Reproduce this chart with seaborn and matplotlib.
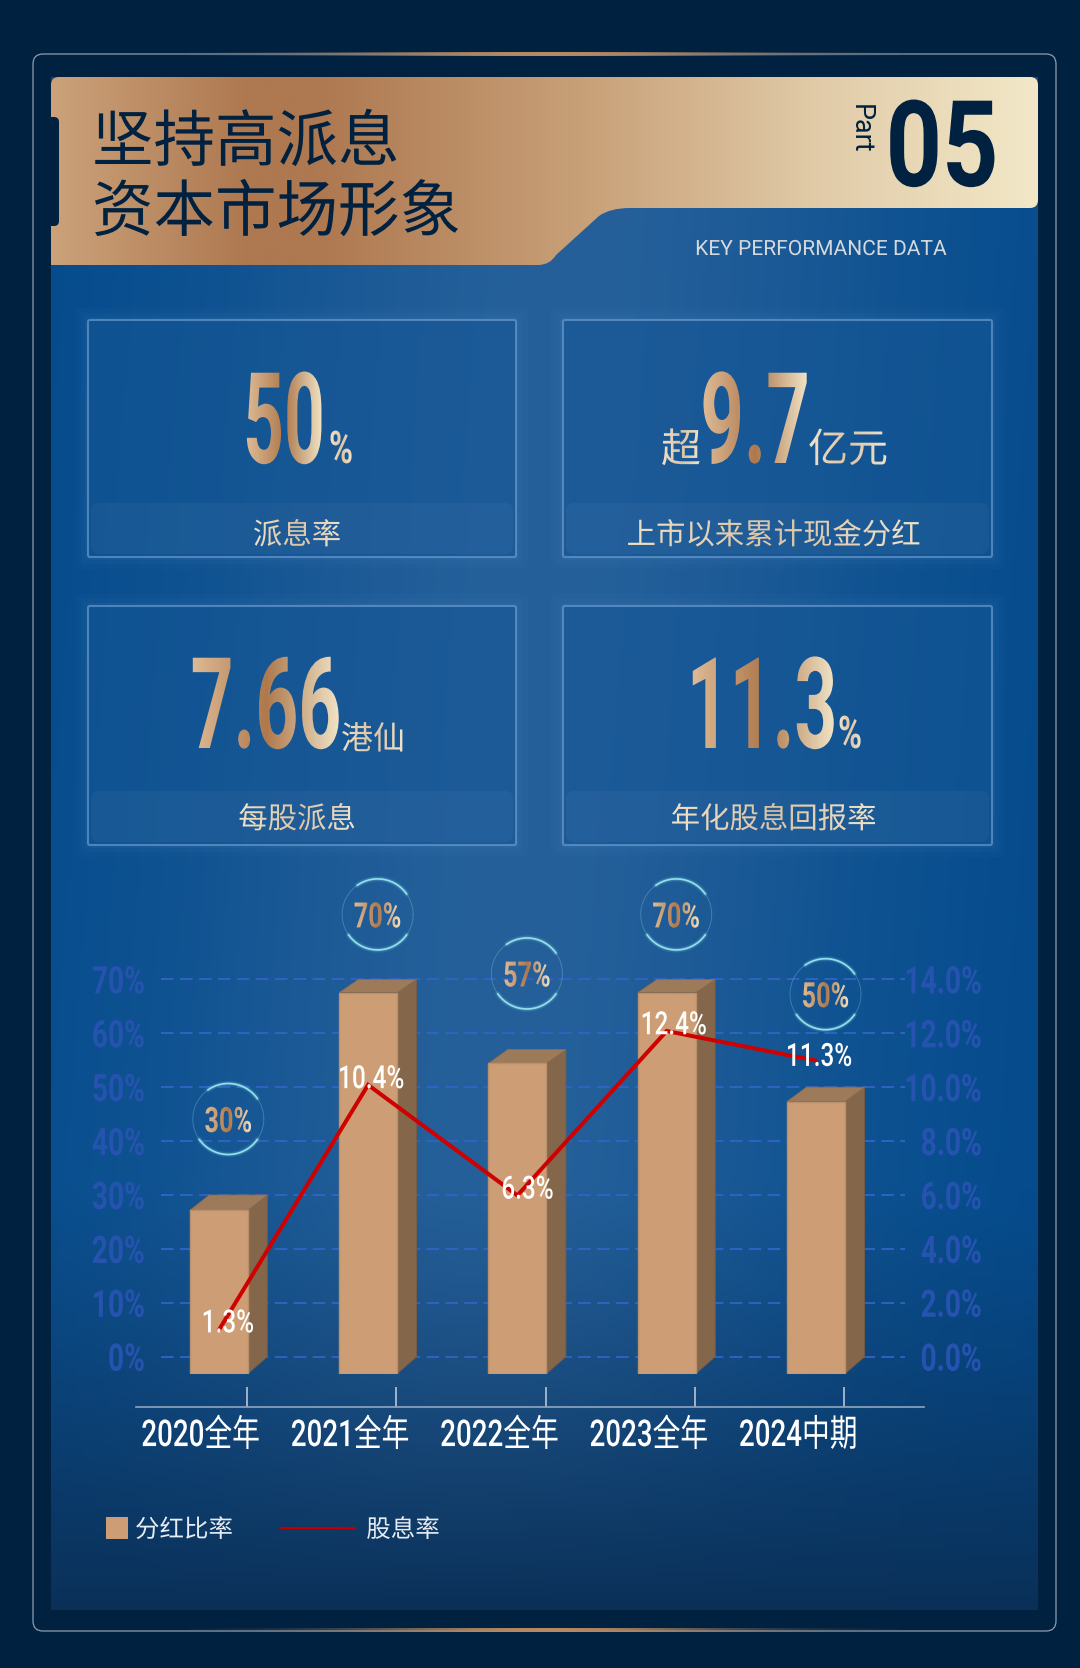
import numpy as np
import matplotlib
matplotlib.use('Agg')
import matplotlib.pyplot as plt
import seaborn as sns
from matplotlib.colors import LinearSegmentedColormap, to_rgb
from matplotlib.patches import FancyBboxPatch, PathPatch, Polygon, Rectangle
from matplotlib.path import Path
from matplotlib.patheffects import AbstractPathEffect
from matplotlib.transforms import Affine2D, Bbox, ScaledTranslation

# chart values
periods = ['2020全年', '2021全年', '2022全年', '2023全年', '2024中期']
payout_ratio = [30, 70, 57, 70, 50]
dividend_yield = [1.3, 10.4, 6.3, 12.4, 11.3]
payout_ticks = [0, 10, 20, 30, 40, 50, 60, 70]
yield_ticks = [0, 2, 4, 6, 8, 10, 12, 14]

W, H = 1080, 1668
DPI = 100
FONT = ['Roboto', 'Noto Sans CJK SC', 'DejaVu Sans']
CJK = ['Noto Sans CJK SC', 'DejaVu Sans']
OUTER = '#00213f'
GRID = '#3363c6'
TICK_BLUE = '#2753b0'
GOLD = ['#dcb994', '#ae784c', '#f0e3c6']
CREAM = ['#efe0c6', '#dcc3a2', '#efe2ca']

sns.set_theme(style='white')
plt.rcParams['font.family'] = FONT
plt.rcParams['axes.unicode_minus'] = False


def pt(px):
    return px * 72 / DPI


class Tall(AbstractPathEffect):
    """Stretch a text vertically (condensed look) and optionally fill it left to right with a gradient"""

    def __init__(self, sy=1.0, about='baseline', stops=None):
        super().__init__()
        self.sy = sy
        self.about = about
        self.cmap = LinearSegmentedColormap.from_list('g', stops) if stops else None

    def draw_path(self, renderer, gc, tpath, affine, rgbFace=None):
        if self.about == 'baseline':
            aff = Affine2D().scale(1, self.sy) + affine
        else:
            ext = tpath.get_extents(affine)
            cy = (ext.y0 + ext.y1) / 2
            aff = affine + Affine2D().translate(0, -cy).scale(1, self.sy).translate(0, cy)
        if self.cmap is None:
            renderer.draw_path(gc, tpath, aff, rgbFace)
            return
        ext = tpath.get_extents(aff)
        for px in range(int(np.floor(ext.x0)), int(np.ceil(ext.x1))):
            gc0 = renderer.new_gc()
            gc0.copy_properties(gc)
            gc0.set_clip_rectangle(Bbox([[px, ext.y0 - 2], [px + 1, ext.y1 + 2]]))
            frac = (px - ext.x0) / max(ext.width, 1)
            renderer.draw_path(gc0, tpath, aff, self.cmap(frac)[:3])
            gc0.restore()


def px_axes(fig, left, top, right, bottom, zorder=1):
    ax = fig.add_axes([left / W, 1 - bottom / H, (right - left) / W, (bottom - top) / H])
    ax.set_zorder(zorder)
    ax.patch.set_alpha(0)
    return ax


def put(ax, x, y, s, px, color='white', sx=1.0, ha='center', stops=None, **kw):
    # px is the visual em height, sx the wanted narrowing of the glyphs
    return ax.text(x, y, s, fontsize=pt(px * sx), color=color, ha=ha, va='baseline',
                   path_effects=[Tall(1 / sx, 'baseline', stops)], **kw)


def h_gradient(stops, n=1000):
    xs = np.linspace(0, 1, n)
    pos = [s[0] for s in stops]
    cols = np.array([to_rgb(s[1]) for s in stops])
    return np.stack([np.interp(xs, pos, cols[:, i]) for i in range(3)], axis=-1)[None, :, :]


fig = plt.figure(figsize=(W / DPI, H / DPI), dpi=DPI, facecolor=OUTER)

# background layer, pixel coordinates
ax_bg = px_axes(fig, 0, 0, W, H, zorder=0)
ax_bg.axis('off')

# panel gradient
yy, xx = np.mgrid[0:1:400j, 0:1:300j]
edge = np.array(to_rgb('#024a8c'))
mid = np.array(to_rgb('#25609a'))
low = np.array(to_rgb('#0a3058'))
glow = np.exp(-((xx - 0.5 + 0.12 * (yy - 0.3)) / 0.36) ** 2)[..., None]
panel = edge + (mid - edge) * glow
dark = np.clip((yy - 0.72) / 0.28, 0, 1)[..., None] ** 1.2
panel = panel + (low - panel) * dark
ax_bg.imshow(panel, extent=(51, 1038, 1610, 77), aspect='auto', zorder=1)

# outer frame with gold accents
ax_bg.add_patch(FancyBboxPatch((33, 54), 1023, 1577, boxstyle='round,pad=0,rounding_size=10',
                               fc='none', ec='#8c9db2', lw=0.9, zorder=2))
for y in (53.5, 1630.5):
    acc = np.ones((1, 600, 4))
    acc[..., :3] = to_rgb('#b98a62')
    acc[..., 3] = np.exp(-((np.linspace(-1, 1, 600)) / 0.55) ** 2)
    ax_bg.imshow(acc, extent=(190, 900, y + 2, y - 2), aspect='auto', zorder=3)

# header ribbon
verts = [(51, 85), (51, 77), (59, 77), (1030, 77), (1038, 77), (1038, 85), (1038, 200), (1038, 208),
         (1030, 208), (630, 208), (610, 208), (599, 216), (556, 255), (550, 265), (538, 265),
         (51, 265), (51, 85)]
codes = [Path.MOVETO, Path.CURVE3, Path.CURVE3, Path.LINETO, Path.CURVE3, Path.CURVE3, Path.LINETO,
         Path.CURVE3, Path.CURVE3, Path.LINETO, Path.CURVE3, Path.CURVE3, Path.LINETO, Path.CURVE3,
         Path.CURVE3, Path.LINETO, Path.CLOSEPOLY]
ribbon = PathPatch(Path(verts, codes), fc='none', ec='none', transform=ax_bg.transData)
ax_bg.add_patch(ribbon)
im = ax_bg.imshow(h_gradient([(0, '#cba27a'), (0.2, '#ae7850'), (0.27, '#ae7850'), (0.55, '#c9a27a'),
                              (0.78, '#e1cba8'), (1, '#f2e8c8')]),
                  extent=(51, 1038, 265, 77), aspect='auto', zorder=4)
im.set_clip_path(ribbon)
ax_bg.add_patch(FancyBboxPatch((44, 117), 15, 109, boxstyle='round,pad=0,rounding_size=5',
                               fc=OUTER, ec='none', zorder=5))

put(ax_bg, 92, 161, '坚持高派息', 61.5, OUTER, ha='left', family=CJK, zorder=6)
put(ax_bg, 92, 231, '资本市场形象', 61.5, OUTER, ha='left', family=CJK, zorder=6)
put(ax_bg, 942, 186, '05', 120, OUTER, sx=0.82, weight='bold', zorder=6)
ax_bg.text(860, 129, 'Part', fontsize=pt(27), color=OUTER, rotation=-90, ha='center', va='center',
           zorder=6)
put(ax_bg, 821, 255, 'KEY PERFORMANCE DATA', 21, '#d4d9de', zorder=6)

# KPI cards
cards = [(88, 320, 428, 237), (563, 320, 429, 237), (88, 606, 428, 239), (563, 606, 429, 239)]
for x, y, w, h in cards:
    for grow, a in ((12, 0.03), (7, 0.04), (3, 0.05)):
        ax_bg.add_patch(FancyBboxPatch((x - grow, y - grow), w + 2 * grow, h + 2 * grow,
                                       boxstyle='round,pad=0,rounding_size=4', fc='#6fa6dc', ec='none',
                                       alpha=a, zorder=2))
    ax_bg.add_patch(FancyBboxPatch((x, y), w, h, boxstyle='round,pad=0,rounding_size=2',
                                   fc='#0d4f8f', ec='none', alpha=0.5, zorder=3))
    ax_bg.add_patch(FancyBboxPatch((x + 3, y + h - 54), w - 6, 51, boxstyle='round,pad=0,rounding_size=8',
                                   fc='#ffffff', ec='none', alpha=0.035, zorder=3))
    ax_bg.add_patch(FancyBboxPatch((x, y), w, h, boxstyle='round,pad=0,rounding_size=2',
                                   fc='none', ec='#6f9fd2', lw=1.5, alpha=0.65, zorder=4))

EM = 127
put(ax_bg, 284, 463, '50', EM, sx=0.56, stops=GOLD, weight='bold', zorder=6)
put(ax_bg, 341, 463, '%', 45, sx=0.72, stops=CREAM, weight='bold', zorder=6)
put(ax_bg, 681, 462, '超', 40, stops=CREAM, family=CJK, zorder=6)
put(ax_bg, 755, 463, '9.7', EM, sx=0.6, stops=GOLD, weight='bold', zorder=6)
put(ax_bg, 848, 462, '亿元', 40, stops=CREAM, family=CJK, zorder=6)
put(ax_bg, 266, 748, '7.66', EM, sx=0.59, stops=GOLD, weight='bold', zorder=6)
put(ax_bg, 373, 749, '港仙', 32, stops=CREAM, family=CJK, zorder=6)
put(ax_bg, 762, 748, '11.3', EM, sx=0.59, stops=GOLD, weight='bold', zorder=6)
put(ax_bg, 850, 748, '%', 45, sx=0.72, stops=CREAM, weight='bold', zorder=6)
put(ax_bg, 297, 544, '派息率', 29.4, stops=CREAM, family=CJK, zorder=6)
put(ax_bg, 773.5, 544, '上市以来累计现金分红', 29.4, stops=CREAM, family=CJK, zorder=6)
put(ax_bg, 297, 828, '每股派息', 29.4, stops=CREAM, family=CJK, zorder=6)
put(ax_bg, 773.5, 828, '年化股息回报率', 29.4, stops=CREAM, family=CJK, zorder=6)

# legend
ax_bg.add_patch(Rectangle((106, 1517), 22, 22, fc='#cd9e75', ec='none', zorder=6))
ax_bg.plot([281, 355], [1528, 1528], color='#c00000', lw=1.6, zorder=6)
put(ax_bg, 184, 1537, '分红比率', 24.5, '#e6ecf3', family=CJK, zorder=6)
put(ax_bg, 403, 1537, '股息率', 24.5, '#e6ecf3', family=CJK, zorder=6)

ax_bg.set_xlim(0, W)
ax_bg.set_ylim(H, 0)

# chart frames: back wall holds the grid, the bar fronts and the line sit nearer the viewer
STEP = 149.3
CENTER0 = 238.3
GRID_L, GRID_R, GRID_T, GRID_B = 161, 905, 979.4, 1356.7
DX, DY = 19.5, 17.0
FRONT_T = 992.7
xlim = ((GRID_L - CENTER0) / STEP, (GRID_R - CENTER0) / STEP)

TICK_SX = 0.74
ax_back = px_axes(fig, GRID_L, GRID_T, GRID_R, GRID_B, zorder=1)
ax_back.set_xlim(xlim)
ax_back.set_ylim(0, 70)
ax_back.set_xticks([])
ax_back.set_yticks(payout_ticks, [f'{t}%' for t in payout_ticks])
ax_back.yaxis.grid(True, color=GRID, lw=1.3, ls=(0, (7, 3.5)))
ax_back.tick_params(axis='y', length=0, pad=pt(16), labelsize=pt(38 * TICK_SX), labelcolor=TICK_BLUE)
for gl in ax_back.get_ygridlines():
    gl.set_clip_on(False)
for lab in ax_back.get_yticklabels():
    lab.set_weight('bold')
    lab.set_path_effects([Tall(1 / TICK_SX, 'center')])
sns.despine(ax=ax_back, left=True, bottom=True)

ax_right = ax_back.twinx()
ax_right.patch.set_alpha(0)
ax_right.set_ylim(0, 14)
ax_right.set_yticks(yield_ticks, [f'{t:.1f}%' for t in yield_ticks])
ax_right.tick_params(axis='y', length=0, pad=pt(77), labelsize=pt(38 * TICK_SX), labelcolor=TICK_BLUE)
for lab in ax_right.get_yticklabels():
    lab.set_ha('right')
    lab.set_weight('bold')
    lab.set_path_effects([Tall(1 / TICK_SX, 'center')])
sns.despine(ax=ax_right, left=True, bottom=True, right=True)

ax_front = px_axes(fig, GRID_L - DX, FRONT_T, GRID_R - DX, GRID_B + DY, zorder=3)
sns.barplot(x=periods, y=payout_ratio, ax=ax_front, color='#cd9e75', saturation=1, width=58 / STEP,
            edgecolor='#b8906c', linewidth=1.0)
ax_front.set_xlim(xlim)
ax_front.set_ylim(0, 70)
ax_front.axis('off')
front_unit = (GRID_B + DY - FRONT_T) / 70
back_unit = (GRID_B - GRID_T) / 70
dx_data, dy_data = DX / STEP, DY / front_unit
for bar in list(ax_front.patches):
    x0, w, top = bar.get_x(), bar.get_width(), bar.get_height()
    back_top = dy_data + top * back_unit / front_unit
    bar.set_zorder(3)
    ax_front.add_patch(Polygon([(x0 + w, 0), (x0 + w + dx_data, dy_data), (x0 + w + dx_data, back_top),
                                (x0 + w, top)], fc='#84664a', ec='#7a5d43', lw=0.6, clip_on=False, zorder=2))
    ax_front.add_patch(Polygon([(x0, top), (x0 + dx_data, back_top), (x0 + w + dx_data, back_top),
                                (x0 + w, top)], fc='#9c7a5a', ec='#8d6d50', lw=0.6, clip_on=False, zorder=2))

ax_line = px_axes(fig, GRID_L - DX, GRID_T + DY / 2, GRID_R - DX, GRID_B + DY / 2, zorder=4)
sns.lineplot(x=periods, y=dividend_yield, ax=ax_line, color='#cf0000', linewidth=2.9, sort=False,
             solid_joinstyle='miter')
ax_line.set_xlim(xlim)
ax_line.set_ylim(0, 14)
ax_line.axis('off')
label_shift = [(9, 7), (3, 6), (10, 6), (7, 6), (3, 4)]
VAL_SX = 0.76
for i, v in enumerate(dividend_yield):
    ax_line.annotate(f'{v}%', xy=(i, v), xytext=label_shift[i], textcoords='offset pixels',
                     ha='center', va='center', color='white', fontsize=pt(32 * VAL_SX), weight='medium',
                     path_effects=[Tall(1 / VAL_SX, 'center')], annotation_clip=False, zorder=5)

# bottom category axis, ticks sit right of their labels
AX_SX = 0.75
ax_axis = px_axes(fig, 135.7, 1380, 924.3, 1406.5, zorder=2)
ax_axis.set_xlim((135.7 - 246.7) / 149.4, (924.3 - 246.7) / 149.4)
ax_axis.set_ylim(0, 1)
ax_axis.set_yticks([])
ax_axis.set_xticks(range(len(periods)), periods)
ax_axis.tick_params(axis='x', bottom=True, direction='in', length=pt(20), width=1.1, color='#c4d1e0',
                    pad=pt(15), labelsize=pt(37 * AX_SX), labelcolor='white')
sns.despine(ax=ax_axis, left=True)
ax_axis.spines['bottom'].set_color('#8fa6c0')
ax_axis.spines['bottom'].set_linewidth(1.2)
shift = ScaledTranslation(-46 / DPI, 0, fig.dpi_scale_trans)
for lab in ax_axis.get_xticklabels():
    lab.set_transform(lab.get_transform() + shift)
    lab.set_weight('medium')
    lab.set_path_effects([Tall(1 / AX_SX, 'center')])

# payout bubbles above each bar
ax_top = px_axes(fig, 0, 0, W, H, zorder=5)
ax_top.axis('off')
ax_top.set_xlim(0, W)
ax_top.set_ylim(H, 0)
bubble_rise = [76, 65, 76, 65, 93]
R = 35.5
for i, v in enumerate(payout_ratio):
    bx, by = ax_back.transData.transform((i, v))
    cx, cy = bx - 10, (H - by) - bubble_rise[i]
    t = np.radians(np.arange(0, 361, 3))
    ax_top.plot(cx + R * np.cos(t), cy - R * np.sin(t), color='#8fd8e8', lw=0.7, alpha=0.3)
    for a0, a1 in ((35, 125), (215, 325)):
        t = np.radians(np.arange(a0, a1 + 1, 2))
        for lw, a in ((4.0, 0.10), (2.4, 0.18), (1.2, 0.95)):
            ax_top.plot(cx + R * np.cos(t), cy - R * np.sin(t), color='#93e6ee', lw=lw, alpha=a,
                        solid_capstyle='round')
    put(ax_top, cx, cy + 13, f'{v}%', 35, sx=0.72, stops=GOLD, weight='bold')

fig.savefig('out.png', dpi=DPI, facecolor=OUTER)
